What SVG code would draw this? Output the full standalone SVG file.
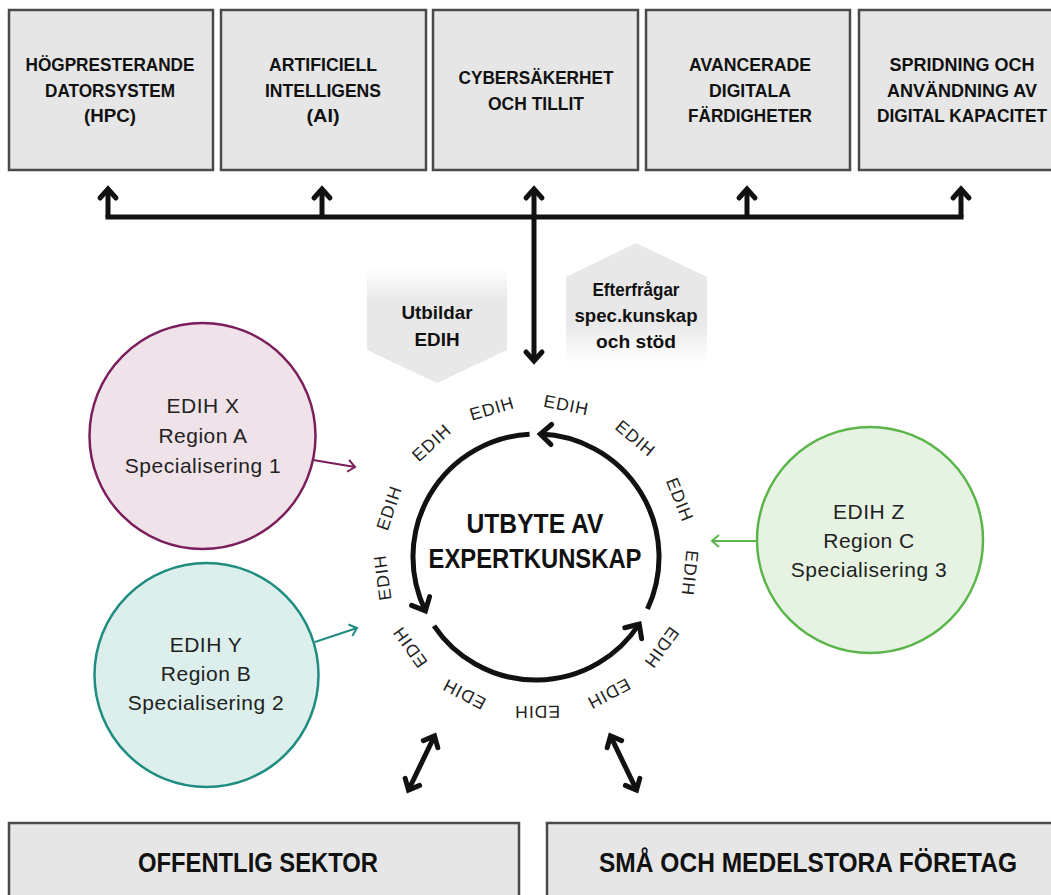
<svg xmlns="http://www.w3.org/2000/svg" width="1051" height="895" viewBox="0 0 1051 895">
<style>
.box{fill:#e6e6e6;stroke:#4a4a4a;stroke-width:2.5}
.hd{font-family:"Liberation Sans Narrow","Liberation Sans",Arial,sans-serif;font-weight:bold;fill:#111;text-anchor:middle}
.t19{font-size:19px}
.t27{font-size:27px}
.lt{font-family:"Liberation Sans",Arial,sans-serif;font-size:21px;fill:#222;text-anchor:middle;letter-spacing:0.5px}
.ring{font-family:"Liberation Sans",Arial,sans-serif;font-size:17.5px;fill:#222;text-anchor:middle;letter-spacing:1px}
.blk{fill:none;stroke:#111;stroke-width:5}
</style>
<defs>
<marker id="ah" markerUnits="userSpaceOnUse" viewBox="-14 -14 28 28" markerWidth="28" markerHeight="28" refX="0" refY="0" orient="auto-start-reverse" overflow="visible">
<path d="M-9,-8 L0,0 L-9,8" fill="none" stroke="#111" stroke-width="5" stroke-linecap="round" stroke-linejoin="miter"/>
</marker>
<marker id="rh" markerUnits="userSpaceOnUse" viewBox="-16 -16 32 32" markerWidth="32" markerHeight="32" refX="0" refY="0" orient="auto" overflow="visible">
<path d="M-11,-10 L0,0 L-11,10" fill="none" stroke="#111" stroke-width="5" stroke-linecap="round" stroke-linejoin="miter"/>
</marker>
<marker id="mx" markerUnits="userSpaceOnUse" viewBox="-10 -10 20 20" markerWidth="20" markerHeight="20" refX="0" refY="0" orient="auto" overflow="visible">
<path d="M-7,-6 L0,0 L-7,6" fill="none" stroke="#7a1e5c" stroke-width="2"/>
</marker>
<marker id="my" markerUnits="userSpaceOnUse" viewBox="-10 -10 20 20" markerWidth="20" markerHeight="20" refX="0" refY="0" orient="auto" overflow="visible">
<path d="M-7,-6 L0,0 L-7,6" fill="none" stroke="#1f8c80" stroke-width="2"/>
</marker>
<marker id="mz" markerUnits="userSpaceOnUse" viewBox="-10 -10 20 20" markerWidth="20" markerHeight="20" refX="0" refY="0" orient="auto" overflow="visible">
<path d="M-7,-6 L0,0 L-7,6" fill="none" stroke="#5cb54a" stroke-width="2"/>
</marker>
<linearGradient id="gUp" x1="0" y1="0" x2="0" y2="1">
<stop offset="0" stop-color="#ffffff"/>
<stop offset="0.3" stop-color="#e8e8e8"/>
<stop offset="1" stop-color="#e8e8e8"/>
</linearGradient>
<linearGradient id="gDown" x1="0" y1="0" x2="0" y2="1">
<stop offset="0" stop-color="#e8e8e8"/>
<stop offset="0.65" stop-color="#e8e8e8"/>
<stop offset="1" stop-color="#ffffff"/>
</linearGradient>
</defs>

<g id="box-hpc">
<rect class="box" x="9" y="10" width="204" height="160"/>
<text class="hd t19" x="110" y="71" textLength="169" lengthAdjust="spacingAndGlyphs">HÖGPRESTERANDE</text>
<text class="hd t19" x="110" y="96.5" textLength="130" lengthAdjust="spacingAndGlyphs">DATORSYSTEM</text>
<text class="hd t19" x="110" y="122" textLength="52" lengthAdjust="spacingAndGlyphs">(HPC)</text>
</g>
<g id="box-ai">
<rect class="box" x="221" y="10" width="205" height="160"/>
<text class="hd t19" x="323" y="71" textLength="108" lengthAdjust="spacingAndGlyphs">ARTIFICIELL</text>
<text class="hd t19" x="323" y="96.5" textLength="116" lengthAdjust="spacingAndGlyphs">INTELLIGENS</text>
<text class="hd t19" x="323" y="122" textLength="33" lengthAdjust="spacingAndGlyphs">(AI)</text>
</g>
<g id="box-cyber">
<rect class="box" x="433" y="10" width="205" height="160"/>
<text class="hd t19" x="536" y="84" textLength="155" lengthAdjust="spacingAndGlyphs">CYBERSÄKERHET</text>
<text class="hd t19" x="536" y="109.5" textLength="96" lengthAdjust="spacingAndGlyphs">OCH TILLIT</text>
</g>
<g id="box-skills">
<rect class="box" x="646" y="10" width="204" height="160"/>
<text class="hd t19" x="750" y="71" textLength="122" lengthAdjust="spacingAndGlyphs">AVANCERADE</text>
<text class="hd t19" x="750" y="96.5" textLength="82" lengthAdjust="spacingAndGlyphs">DIGITALA</text>
<text class="hd t19" x="750" y="122" textLength="124" lengthAdjust="spacingAndGlyphs">FÄRDIGHETER</text>
</g>
<g id="box-spread">
<rect class="box" x="859" y="10" width="194" height="160"/>
<text class="hd t19" x="962" y="71" textLength="145" lengthAdjust="spacingAndGlyphs">SPRIDNING OCH</text>
<text class="hd t19" x="962" y="96.5" textLength="150" lengthAdjust="spacingAndGlyphs">ANVÄNDNING AV</text>
<text class="hd t19" x="962" y="122" textLength="170" lengthAdjust="spacingAndGlyphs">DIGITAL KAPACITET</text>
</g>

<g id="tag-utbildar">
<polygon points="367,267 507,267 507,350 437,383 367,350" fill="url(#gUp)"/>
<text class="hd t19" x="437" y="319" textLength="71" lengthAdjust="spacingAndGlyphs">Utbildar</text>
<text class="hd t19" x="437" y="346" textLength="45" lengthAdjust="spacingAndGlyphs">EDIH</text>
</g>
<g id="tag-efterfragar">
<polygon points="636,243 707,277 707,364 566,364 566,277" fill="url(#gDown)"/>
<text class="hd t19" x="636" y="296" textLength="87" lengthAdjust="spacingAndGlyphs">Efterfrågar</text>
<text class="hd t19" x="636" y="322" textLength="123" lengthAdjust="spacingAndGlyphs">spec.kunskap</text>
<text class="hd t19" x="636" y="348" textLength="80" lengthAdjust="spacingAndGlyphs">och stöd</text>
</g>

<g id="connectors">
<path class="blk" d="M108,217 H961" stroke-linecap="square"/>
<path class="blk" d="M108,217 V189" marker-end="url(#ah)"/>
<path class="blk" d="M322,217 V189" marker-end="url(#ah)"/>
<path class="blk" d="M747,217 V189" marker-end="url(#ah)"/>
<path class="blk" d="M961,217 V189" marker-end="url(#ah)"/>
<path class="blk" d="M534,189 V361" marker-start="url(#ah)" marker-end="url(#ah)"/>
<path class="blk" d="M434.5,736 L408.5,790" marker-start="url(#ah)" marker-end="url(#ah)"/>
<path class="blk" d="M610.5,736 L636.5,790" marker-start="url(#ah)" marker-end="url(#ah)"/>
<path d="M313,460 L355,467" fill="none" stroke="#7a1e5c" stroke-width="2" marker-end="url(#mx)"/>
<path d="M315,642 L357,628" fill="none" stroke="#1f8c80" stroke-width="2" marker-end="url(#my)"/>
<path d="M757,541 L712,541" fill="none" stroke="#5cb54a" stroke-width="2" marker-end="url(#mz)"/>
</g>

<g id="cycle">
<path class="blk" d="M529.6,434.2 A123,123 0 0 0 425.4,610.9" marker-end="url(#rh)"/>
<path class="blk" d="M434.0,625.8 A123,123 0 0 0 639.2,624.0" marker-end="url(#rh)"/>
<path class="blk" d="M647.5,609.0 A123,123 0 0 0 540.3,434.1" marker-end="url(#rh)"/>
<text class="hd t27" x="535" y="533" textLength="137" lengthAdjust="spacingAndGlyphs">UTBYTE AV</text>
<text class="hd t27" x="535" y="568" textLength="213" lengthAdjust="spacingAndGlyphs">EXPERTKUNSKAP</text>
<g class="ring">
<text transform="translate(492.0,408.4) rotate(-16.5)" dy="0.35em">EDIH</text>
<text transform="translate(566.4,405.0) rotate(11.3)" dy="0.35em">EDIH</text>
<text transform="translate(635.6,438.3) rotate(40)" dy="0.35em">EDIH</text>
<text transform="translate(680.0,499.7) rotate(68.3)" dy="0.35em">EDIH</text>
<text transform="translate(690.1,573.2) rotate(96)" dy="0.35em">EDIH</text>
<text transform="translate(661.7,647.7) rotate(125.8)" dy="0.35em">EDIH</text>
<text transform="translate(608.8,693.8) rotate(152)" dy="0.35em">EDIH</text>
<text transform="translate(537.1,712.0) rotate(179.6)" dy="0.35em">EDIH</text>
<text transform="translate(464.0,694.2) rotate(207.7)" dy="0.35em">EDIH</text>
<text transform="translate(410.0,647.2) rotate(234.4)" dy="0.35em">EDIH</text>
<text transform="translate(382.4,577.5) rotate(262.4)" dy="0.35em">EDIH</text>
<text transform="translate(389.0,507.8) rotate(288.5)" dy="0.35em">EDIH</text>
<text transform="translate(431.5,442.5) rotate(317.6)" dy="0.35em">EDIH</text>
</g>
</g>

<g id="edih-x">
<circle cx="202.5" cy="436" r="113" fill="#f0e2e9" stroke="#7a1e5c" stroke-width="2.5"/>
<text class="lt" x="203" y="413">EDIH X</text>
<text class="lt" x="203" y="443">Region A</text>
<text class="lt" x="203" y="473">Specialisering 1</text>
</g>
<g id="edih-y">
<circle cx="206.5" cy="675" r="112" fill="#dcefec" stroke="#1f8c80" stroke-width="2.5"/>
<text class="lt" x="206" y="652">EDIH Y</text>
<text class="lt" x="206" y="681">Region B</text>
<text class="lt" x="206" y="710">Specialisering 2</text>
</g>
<g id="edih-z">
<circle cx="870" cy="540" r="113" fill="#e6f2e2" stroke="#5cb54a" stroke-width="2.5"/>
<text class="lt" x="869" y="519">EDIH Z</text>
<text class="lt" x="869" y="548">Region C</text>
<text class="lt" x="869" y="577">Specialisering 3</text>
</g>

<g id="box-public">
<rect class="box" x="9" y="823" width="510" height="74"/>
<text class="hd t27" x="258" y="872" textLength="240" lengthAdjust="spacingAndGlyphs">OFFENTLIG SEKTOR</text>
</g>
<g id="box-sme">
<rect class="box" x="547" y="823" width="506" height="74"/>
<text class="hd t27" x="808" y="872" textLength="418" lengthAdjust="spacingAndGlyphs">SMÅ OCH MEDELSTORA FÖRETAG</text>
</g>
</svg>
